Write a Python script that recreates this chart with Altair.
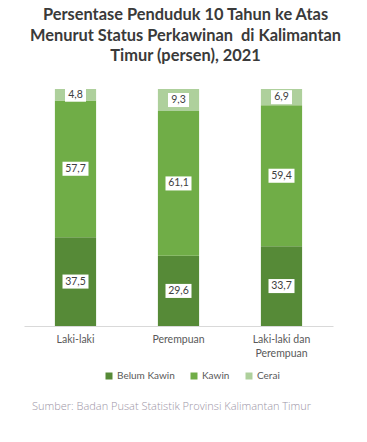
import altair as alt
import pandas as pd

categories = ["Laki-laki", "Perempuan", "Laki-laki dan Perempuan"]
statuses = ["Belum Kawin", "Kawin", "Cerai"]
belum_kawin = [37.5, 29.6, 33.7]
kawin = [57.7, 61.1, 59.4]
cerai = [4.8, 9.3, 6.9]
colors = ["#568A37", "#70AD47", "#AED09C"]
title_lines = ["Persentase Penduduk 10 Tahun ke Atas",
               "Menurut Status Perkawinan\u00a0 di Kalimantan",
               "Timur (persen), 2021"]
source = "Sumber: Badan Pusat Statistik Provinsi Kalimantan Timur"

rows = []
for i, c in enumerate(categories):
    for j, (s, vals) in enumerate(zip(statuses, [belum_kawin, kawin, cerai])):
        v = vals[i]
        rows.append({"kategori": c, "status": s, "nilai": v, "urut": j,
                     "label": f"{v:.1f}".replace(".", ",")})
df = pd.DataFrame(rows)

base = alt.Chart(df).transform_stack(
    stack="nilai", groupby=["kategori"],
    sort=[alt.SortField("urut", order="ascending")], as_=["y0", "y1"]
).transform_calculate(mid="(datum.y0 + datum.y1) / 2")

x = alt.X("kategori:N", sort=categories,
          scale=alt.Scale(paddingInner=0.6, paddingOuter=0.3),
          axis=alt.Axis(title=None, labelAngle=0, ticks=False, domainColor="#D9D9D9",
                        labelFont="Lato", labelFontSize=10.5, labelColor="#595959",
                        labelPadding=8, labelLineHeight=14,
                        labelExpr="datum.label == 'Laki-laki dan Perempuan' ? ['Laki-laki dan', 'Perempuan'] : datum.label"))
yscale = alt.Scale(domain=[0, 100])

bars = base.mark_bar().encode(
    x=x,
    y=alt.Y("y0:Q", scale=yscale, axis=None),
    y2="y1:Q",
    color=alt.Color("status:N", sort=statuses,
                    scale=alt.Scale(domain=statuses, range=colors),
                    legend=alt.Legend(title=None, orient="none", direction="horizontal",
                                      legendX=80, legendY=282,
                                      symbolType="square", symbolSize=49, symbolStrokeWidth=0,
                                      labelFont="Lato", labelFontSize=10, labelColor="#595959",
                                      columnPadding=14, labelOffset=3)),
)

wide = "M-1,-0.54H1V0.54H-1Z"
narrow = "M-0.81,-0.54H0.81V0.54H-0.81Z"
boxes = base.mark_point(filled=True, color="white", opacity=1, size=676, strokeWidth=0).encode(
    x=x,
    y=alt.Y("mid:Q", scale=yscale, axis=None),
    shape=alt.condition("length(datum.label) > 3", alt.value(wide), alt.value(narrow)),
)

texts = base.mark_text(font="Lato", fontSize=10.5, color="#404040").encode(
    x=x,
    y=alt.Y("mid:Q", scale=yscale, axis=None),
    text="label:N",
)

inner = alt.layer(bars, boxes, texts).properties(
    width=309, height=237,
    title=alt.TitleParams(title_lines, font="Lato", fontSize=16.4, fontWeight="bold",
                          color="#3A3A3A", lineHeight=20.5, anchor="middle", dx=7, offset=23),
)

chart = alt.vconcat(inner).properties(
    title=alt.TitleParams(source, orient="bottom", anchor="start", font="Open Sans",
                          fontSize=11, fontWeight=300, color="#9C95A6", offset=20, dx=8),
    padding={"left": 16, "top": -1, "right": 0, "bottom": 0},
).configure_view(stroke=None)

chart.save("out.html", embed_options={"renderer": "svg", "actions": False})
